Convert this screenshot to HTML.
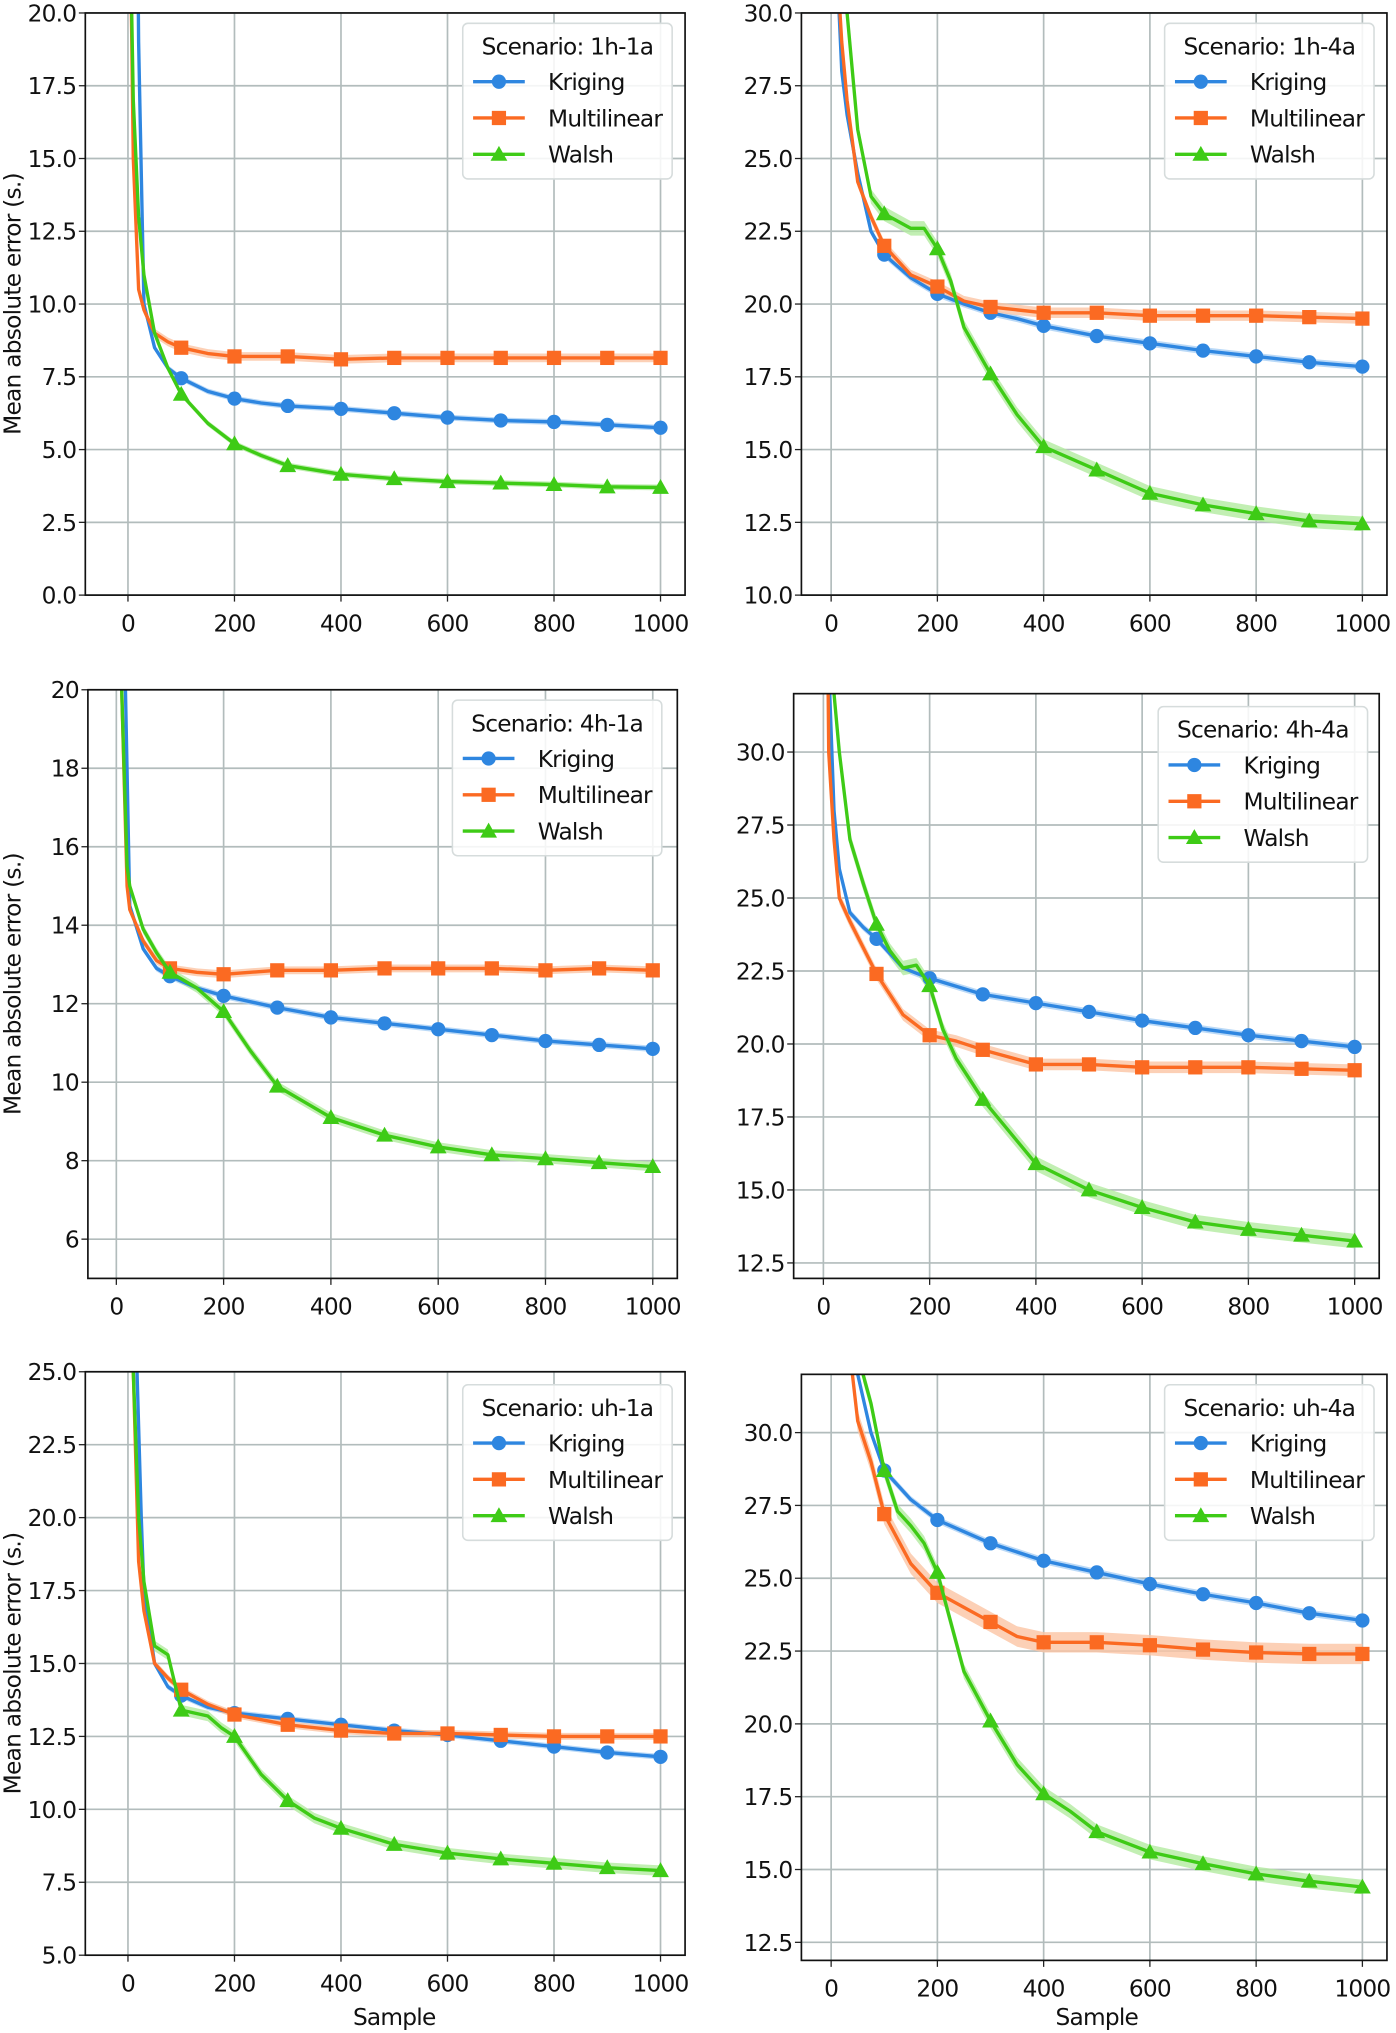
<!DOCTYPE html>
<html><head><meta charset="utf-8"><style>
html,body{margin:0;padding:0;background:#fff}
svg{display:block}
text{font-family:"DejaVu Sans","Liberation Sans",sans-serif;fill:#111;letter-spacing:-0.6px}
</style></head><body>
<svg id="fig" width="1396" height="2033" viewBox="0 0 1080 1568" preserveAspectRatio="none" xmlns="http://www.w3.org/2000/svg"></svg>
<script>
// ---- data ----
const p1KrigX=[5,10,20,30,50,75,100,150,200,250,300,350,400,500,600,700,800,900,1000];
const p1KrigY=[40,40,19,10,8.5,7.8,7.45,7.0,6.75,6.6,6.5,6.45,6.4,6.25,6.1,6.0,5.95,5.85,5.75];
const p1MultX=[5,10,20,30,50,75,100,150,200,300,400,500,600,700,800,900,1000];
const p1MultY=[22,15,10.5,9.8,9.0,8.7,8.5,8.3,8.2,8.2,8.1,8.15,8.15,8.15,8.15,8.15,8.15];
const p1WalX=[5,10,20,30,50,75,100,150,200,250,300,350,400,500,600,700,800,900,1000];
const p1WalY=[22,17,13,11,9,7.8,6.9,5.9,5.2,4.8,4.45,4.3,4.15,4.0,3.9,3.85,3.8,3.72,3.7];

const p2KrigX=[5,10,20,30,50,75,100,150,200,250,300,350,400,500,600,700,800,900,1000];
const p2KrigY=[40,32,28,26.5,24.5,22.5,21.7,20.9,20.35,20.0,19.7,19.5,19.25,18.9,18.65,18.4,18.2,18.0,17.85];
const p2MultX=[5,10,20,30,50,75,100,150,200,250,300,400,500,600,700,800,900,1000];
const p2MultY=[40,32,29,27,24.2,23,22,21,20.6,20.1,19.9,19.7,19.7,19.6,19.6,19.6,19.55,19.5];
const p2WalX=[5,10,20,30,50,75,100,150,175,200,225,250,300,350,400,500,600,700,800,900,1000];
const p2WalY=[40,35,31,30,26,23.7,23.1,22.6,22.6,21.9,20.8,19.2,17.6,16.2,15.1,14.3,13.5,13.1,12.8,12.55,12.45];

const p3KrigX=[5,10,17,25,50,75,100,150,200,300,400,500,600,700,800,900,1000];
const p3KrigY=[30,30,20,14.5,13.4,12.9,12.7,12.4,12.2,11.9,11.65,11.5,11.35,11.2,11.05,10.95,10.85];
const p3MultX=[5,10,20,25,50,75,100,150,200,300,400,500,600,700,800,900,1000];
const p3MultY=[25,20,15,14.4,13.6,13.1,12.9,12.8,12.75,12.85,12.85,12.9,12.9,12.9,12.85,12.9,12.85];
const p3WalX=[5,10,20,25,50,75,100,150,200,250,300,350,400,500,600,700,800,900,1000];
const p3WalY=[25,20,15.5,15.0,13.9,13.3,12.8,12.4,11.8,10.8,9.9,9.5,9.1,8.65,8.35,8.15,8.05,7.95,7.85];

const p4KrigX=[5,10,20,30,50,75,100,150,200,300,400,500,600,700,800,900,1000];
const p4KrigY=[40,33,28,26,24.5,24,23.6,22.6,22.25,21.7,21.4,21.1,20.8,20.55,20.3,20.1,19.9];
const p4MultX=[5,10,20,30,50,75,100,150,200,250,300,400,500,600,700,800,900,1000];
const p4MultY=[40,30,27,25,24.2,23.3,22.4,21,20.3,20.1,19.8,19.3,19.3,19.2,19.2,19.2,19.15,19.1];
const p4WalX=[5,20,30,50,75,100,125,150,175,200,225,250,300,350,400,500,600,700,800,900,1000];
const p4WalY=[40,32,30,27,25.5,24.1,23.2,22.6,22.7,22,20.5,19.5,18.1,17,15.9,15,14.4,13.9,13.65,13.45,13.25];

const p5KrigX=[5,10,17,25,30,50,75,100,150,200,300,400,500,600,700,800,900,1000];
const p5KrigY=[40,40,25,20,17.5,15,14.2,13.9,13.5,13.3,13.1,12.9,12.7,12.55,12.35,12.15,11.95,11.8];
const p5MultX=[5,10,20,30,50,75,100,150,200,300,400,500,600,700,800,900,1000];
const p5MultY=[30,25,18.5,16.8,15,14.5,14.1,13.6,13.25,12.9,12.7,12.6,12.6,12.55,12.5,12.5,12.5];
const p5WalX=[5,10,20,30,50,75,100,150,175,200,250,300,350,400,500,600,700,800,900,1000];
const p5WalY=[30,25,20,17.8,15.6,15.3,13.4,13.2,12.8,12.5,11.2,10.3,9.7,9.35,8.8,8.5,8.3,8.15,8.0,7.9];

const p6KrigX=[50,75,100,150,200,300,400,500,600,700,800,900,1000];
const p6KrigY=[32,30,28.7,27.7,27,26.2,25.6,25.2,24.8,24.45,24.15,23.8,23.55];
const p6MultX=[40,50,75,100,150,200,250,300,350,400,500,600,700,800,900,1000];
const p6MultY=[32,30.4,29,27.2,25.5,24.5,24,23.5,23,22.8,22.8,22.7,22.55,22.45,22.4,22.4];
const p6WalX=[60,75,100,125,150,175,200,225,250,300,350,400,450,500,600,700,800,900,1000];
const p6WalY=[32,31,28.7,27.3,26.8,26.2,25.2,23.5,21.8,20.1,18.6,17.6,17,16.3,15.6,15.2,14.85,14.6,14.4];

const xTicks=[0,200,400,600,800,1000];
const yTicks1=[0,2.5,5,7.5,10,12.5,15,17.5,20];
const yTicks2=[10,12.5,15,17.5,20,22.5,25,27.5,30];
const yTicks3=[6,8,10,12,14,16,18,20];
const yTicks4=[12.5,15,17.5,20,22.5,25,27.5,30];
const yTicks5=[5,7.5,10,12.5,15,17.5,20,22.5,25];
const scenarios=["1h-1a","1h-4a","4h-1a","4h-4a","uh-1a","uh-4a"];
const seriesNames=["Kriging","Multilinear","Walsh"];

// ---- layout ----
const panels=[
 {bx:66,bw:464,by:10,bh:449,x0:99,x1:511,ymin:0,ymax:20,yt:yTicks1,dec:1,lx:358,ly:18,k:[p1KrigX,p1KrigY],m:[p1MultX,p1MultY],w:[p1WalX,p1WalY],band:[0.1,0.15,0.1],ylab:true,xlab:false},
 {bx:620,bw:453,by:10,bh:449,x0:643,x1:1054,ymin:10,ymax:30,yt:yTicks2,dec:1,lx:901,ly:18,k:[p2KrigX,p2KrigY],m:[p2MultX,p2MultY],w:[p2WalX,p2WalY],band:[0.12,0.18,0.25],ylab:false,xlab:false},
 {bx:68,bw:456,by:532,bh:454,x0:90,x1:505,ymin:5,ymax:20,yt:yTicks3,dec:0,lx:350,ly:540,k:[p3KrigX,p3KrigY],m:[p3MultX,p3MultY],w:[p3WalX,p3WalY],band:[0.08,0.1,0.12],ylab:true,xlab:false},
 {bx:614,bw:453,by:535,bh:451,x0:637,x1:1048,ymin:11.97,ymax:32,yt:yTicks4,dec:1,lx:896,ly:545,k:[p4KrigX,p4KrigY],m:[p4MultX,p4MultY],w:[p4WalX,p4WalY],band:[0.12,0.2,0.25],ylab:false,xlab:false},
 {bx:66,bw:464,by:1058,bh:450,x0:99,x1:511,ymin:5,ymax:25,yt:yTicks5,dec:1,lx:358,ly:1068,k:[p5KrigX,p5KrigY],m:[p5MultX,p5MultY],w:[p5WalX,p5WalY],band:[0.1,0.12,0.18],ylab:true,xlab:true},
 {bx:620,bw:453,by:1060,bh:452,x0:643,x1:1054,ymin:11.88,ymax:32,yt:yTicks4,dec:1,lx:901,ly:1068,k:[p6KrigX,p6KrigY],m:[p6MultX,p6MultY],w:[p6WalX,p6WalY],band:[0.12,0.35,0.25],ylab:false,xlab:true}
];
const colors=["#2e86e0","#fb6a22","#3ecb16"];
const bands=["#a9d0f5","#fbc4a4","#b3eba0"];
const NS="http://www.w3.org/2000/svg";
const svg=document.getElementById('fig');
function mk(tag,attrs,parent){const e=document.createElementNS(NS,tag);for(const k in attrs)e.setAttribute(k,attrs[k]);(parent||svg).appendChild(e);return e;}
function marker(g,kind,x,y,c){
 if(kind===0) return mk('circle',{cx:x,cy:y,r:5.5,fill:c},g);
 if(kind===1) return mk('rect',{x:x-5.5,y:y-5.5,width:11,height:11,fill:c},g);
 return mk('polygon',{points:`${x},${y-6.5} ${x+6.5},${y+5} ${x-6.5},${y+5}`,fill:c},g);
}
panels.forEach((p,i)=>{
 const g=mk('g',{});
 
 
 const sx=v=>p.x0+v*(p.x1-p.x0)/1000;
 const sy=v=>p.by+p.bh-(v-p.ymin)/(p.ymax-p.ymin)*p.bh;
 const cid='clip'+i;
 const cp=mk('clipPath',{id:cid},g);mk('rect',{x:p.bx,y:p.by,width:p.bw,height:p.bh},cp);
 xTicks.forEach(t=>{
  const l=mk('line',{x1:sx(t),x2:sx(t),y1:p.by,y2:p.by+p.bh,stroke:'#b2bcbc','stroke-width':1.3},g);
  
  
  mk('line',{x1:sx(t),x2:sx(t),y1:p.by+p.bh,y2:p.by+p.bh+5,stroke:'#222','stroke-width':1},g);
  const tx=mk('text',{x:sx(t),y:p.by+p.bh+28,'text-anchor':'middle','font-size':18},g);tx.textContent=t;
  
  
 });
 p.yt.forEach(t=>{
  const l=mk('line',{x1:p.bx,x2:p.bx+p.bw,y1:sy(t),y2:sy(t),stroke:'#b2bcbc','stroke-width':1.3},g);
  
  
  mk('line',{x1:p.bx-5,x2:p.bx,y1:sy(t),y2:sy(t),stroke:'#222','stroke-width':1},g);
  const tx=mk('text',{x:p.bx-7,y:sy(t)+6.5,'text-anchor':'end','font-size':18},g);tx.textContent=t.toFixed(p.dec);
  
  
 });
 const ser=[p.k,p.m,p.w];
 const cg=mk('g',{'clip-path':`url(#${cid})`},g);
 ser.forEach((s,j)=>{
  const [xs,ys]=s;const h=p.band[j];
  const up=xs.map((x,n)=>`${sx(x)},${sy(ys[n]+h)}`);
  const dn=xs.map((x,n)=>`${sx(x)},${sy(ys[n]-h)}`).reverse();
  const b=mk('polygon',{points:up.concat(dn).join(' '),fill:bands[j],opacity:0.8},cg);
  
  
 });
 ser.forEach((s,j)=>{
  const [xs,ys]=s;
  const l=mk('polyline',{points:xs.map((x,n)=>`${sx(x)},${sy(ys[n])}`).join(' '),fill:'none',stroke:colors[j],'stroke-width':2.6,'stroke-linejoin':'round'},cg);
  
  
  xs.forEach((x,n)=>{ if(x>=100&&x%100===0){
   const m=marker(cg,j,sx(x),sy(ys[n]),colors[j]);
   
   
  }});
 });
 const fr=mk('rect',{x:p.bx,y:p.by,width:p.bw,height:p.bh,fill:'none',stroke:'#111','stroke-width':1.3},g);
 
 
 const lg=mk('g',{},g);
 
 
 mk('rect',{x:p.lx,y:p.ly,width:162,height:120,rx:4,fill:'#fff','fill-opacity':0.85,stroke:'#d6dcdc','stroke-width':1.2},lg);
 const tt=mk('text',{x:p.lx+81,y:p.ly+24,'text-anchor':'middle','font-size':18},lg);tt.textContent='Scenario:  '+scenarios[i];
 
 
 seriesNames.forEach((nm,j)=>{
  const yy=p.ly+45+j*28;
  const e=mk('g',{},lg);
  
  
  mk('line',{x1:p.lx+8,x2:p.lx+48,y1:yy,y2:yy,stroke:colors[j],'stroke-width':2.6},e);
  marker(e,j,p.lx+28,yy,colors[j]);
  const t=mk('text',{x:p.lx+66,y:yy+6.5,'font-size':18},e);t.textContent=nm;
 });
 if(p.ylab){
  const cy=p.by+p.bh/2;
  const t=mk('text',{x:16,y:cy,'text-anchor':'middle','font-size':18,transform:`rotate(-90 16 ${cy})`},g);
  t.textContent='Mean absolute error (s.)';
  
  
 }
 if(p.xlab){
  const t=mk('text',{x:sx(500),y:1562,'text-anchor':'middle','font-size':18},g);
  t.textContent='Sample';
  
  
 }
});
</script>
</body></html>
